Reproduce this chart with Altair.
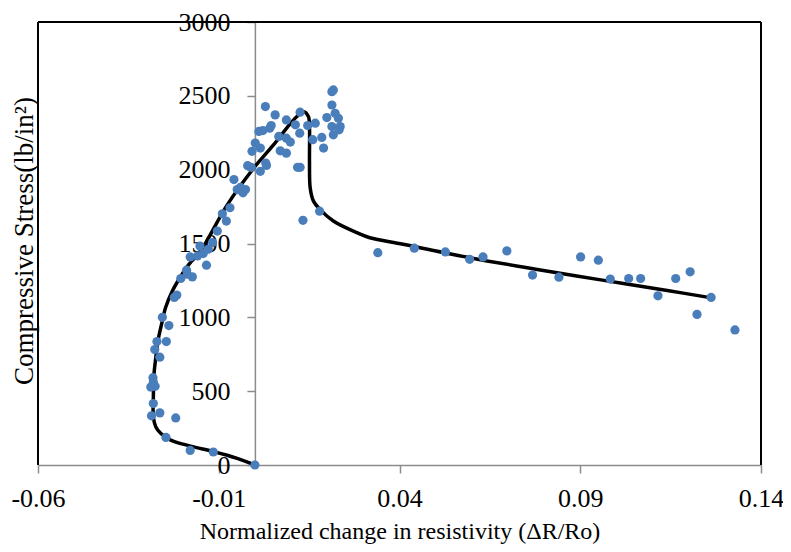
import altair as alt
import pandas as pd

# Scatter data (normalized change in resistivity, compressive stress)
pt_x = [0.0000, -0.0115, -0.0179, -0.0246, -0.0219, -0.0286, -0.0263, -0.0281, -0.0288, -0.0276,
        -0.0281, -0.0282, -0.0263, -0.0277, -0.0271, -0.0245, -0.0238, -0.0256, -0.0223, -0.0216,
        -0.0205, -0.0187, -0.0173, -0.0189, -0.0134, -0.0179, -0.0159, -0.0143, -0.0129, -0.0117,
        -0.0152, -0.0104, -0.0079, -0.0090, -0.0069, -0.0033, -0.0049, -0.0040, -0.0026, -0.0058,
        -0.0020, -0.0010, 0.0015, 0.0032, 0.0030, -0.0008, 0.0001, 0.0011, 0.0022, 0.0015,
        0.0029, 0.0045, 0.0056, 0.0041, 0.0066, 0.0087, 0.0087, 0.0098, 0.0070, 0.0087,
        0.0112, 0.0125, 0.0124, 0.0125, 0.0118, 0.0146, 0.0167, 0.0160, 0.0185, 0.0190,
        0.0199, 0.0217, 0.0213, 0.0213, 0.0222, 0.0231, 0.0213, 0.0236, 0.0217, 0.0233,
        0.0133, 0.0179,
        0.0340, 0.0441, 0.0527, 0.0594, 0.0631, 0.0697, 0.0768, 0.0841, 0.0901, 0.0950,
        0.0983, 0.1034, 0.1067, 0.1115, 0.1164, 0.1204, 0.1223, 0.1262, 0.1328]
pt_y = [0, 88, 99, 187, 319, 333, 353, 416, 528, 533,
        562, 591, 730, 782, 836, 836, 944, 1000, 1135, 1151,
        1263, 1292, 1274, 1319, 1353, 1409, 1416, 1432, 1461, 1506,
        1483, 1584, 1652, 1701, 1742, 1843, 1865, 1880, 1865, 1933,
        2027, 2016, 1989, 2029, 2045, 2124, 2180, 2259, 2265, 2146,
        2427, 2299, 2371, 2281, 2225, 2337, 2213, 2187, 2128, 2112,
        2304, 2389, 2247, 2016, 2016, 2299, 2315, 2203, 2218, 2146,
        2353, 2540, 2528, 2438, 2382, 2348, 2292, 2292, 2236, 2270,
        1657, 1719,
        1438, 1468, 1443, 1393, 1409, 1450, 1286, 1272, 1409, 1387,
        1259, 1263, 1263, 1146, 1263, 1308, 1020, 1135, 915]

# Fitted curve (in path order)
cv_x = [0.0000, -0.0049, -0.0113, -0.0178, -0.0233, -0.0260, -0.0274, -0.0281, -0.0281, -0.0279,
        -0.0274, -0.0268, -0.0258, -0.0247, -0.0228, -0.0207, -0.0182, -0.0150, -0.0077, -0.0003,
        0.0052, 0.0107, 0.0135, 0.0148, 0.0151, 0.0151, 0.0153, 0.0162, 0.0180, 0.0217,
        0.0282, 0.0318, 0.0410, 0.0594, 0.0777, 0.0961, 0.1145, 0.1255]
cv_y = [0, 45, 90, 128, 169, 213, 258, 326, 438, 618,
        730, 843, 955, 1067, 1180, 1270, 1360, 1450, 1760, 2011,
        2169, 2337, 2393, 2360, 2281, 2056, 1876, 1787, 1731, 1652,
        1573, 1539, 1495, 1404, 1326, 1252, 1180, 1135]

x_ticks = [-0.06, -0.01, 0.04, 0.09, 0.14]
y_ticks = [0, 500, 1000, 1500, 2000, 2500, 3000]

pts = pd.DataFrame({"x": pt_x, "y": pt_y})
curve = pd.DataFrame({"x": cv_x, "y": cv_y, "o": list(range(len(cv_x)))})

FONT = "Liberation Serif"
W, H = 723, 443
ZERO_OFFSET = W * 0.06 / 0.20  # pixel distance from left edge to x = 0

xs = alt.Scale(domain=[-0.06, 0.14], nice=False, zero=False)
ys = alt.Scale(domain=[0, 3000], nice=False, zero=False)

x_axis = alt.Axis(values=x_ticks,
                  labelExpr="datum.value < 0 ? '-' + format(-datum.value, '.2f') : format(datum.value, '.2f')",
                  title="Normalized change in resistivity (ΔR/Ro)",
                  grid=False, domainColor="#8c8c8c", tickColor="#8c8c8c", domainWidth=1.5,
                  tickWidth=1.5, tickSize=8, labelPadding=33, labelBaseline="alphabetic",
                  labelFontSize=26, labelFont=FONT, labelColor="black",
                  titleFont=FONT, titleFontSize=24, titleFontWeight="normal", titleColor="black",
                  titleBaseline="alphabetic", titleY=73,
                  labelFlush=False, labelOverlap=False)
y_axis = alt.Axis(values=y_ticks, format="d", title="Compressive Stress(lb/in²)",
                  grid=False, domainColor="#8c8c8c", tickColor="#8c8c8c", domainWidth=1.5,
                  tickWidth=1.5, tickSize=8, labelPadding=17, labelFontSize=26, labelFont=FONT,
                  labelColor="black", titleFont=FONT, titleFontSize=27, titleFontWeight="normal",
                  titleColor="black", offset=-ZERO_OFFSET, titleX=-(ZERO_OFFSET + 6),
                  titleY=218.5, titleBaseline="alphabetic", titleAngle=270,
                  labelFlush=False, labelOverlap=False)

frame_left = alt.Chart().mark_rule(color="black", strokeWidth=2).encode(
    x=alt.datum(-0.06, scale=xs), y=alt.datum(0, scale=ys), y2=alt.datum(3000))
frame_right = alt.Chart().mark_rule(color="black", strokeWidth=2).encode(
    x=alt.datum(0.14, scale=xs), y=alt.datum(0, scale=ys), y2=alt.datum(3000))
frame_top = alt.Chart().mark_rule(color="black", strokeWidth=2).encode(
    y=alt.datum(3000, scale=ys), x=alt.datum(-0.06, scale=xs), x2=alt.datum(0.14))

line = alt.Chart(curve).mark_line(color="black", strokeWidth=3.5, interpolate="catmull-rom").encode(
    x=alt.X("x:Q", scale=xs, axis=x_axis),
    y=alt.Y("y:Q", scale=ys, axis=y_axis),
    order="o:Q",
)
points = alt.Chart(pts).mark_circle(color="#4A7EBB", size=85, opacity=1).encode(
    x=alt.X("x:Q", scale=xs),
    y=alt.Y("y:Q", scale=ys),
)

chart = alt.layer(frame_left, frame_right, frame_top, line, points).properties(
    width=W, height=H,
    autosize=alt.AutoSizeParams(type="none"),
    padding={"left": 30, "top": 14, "right": 22, "bottom": 79},
).configure_view(stroke=None).configure(background="white")

chart.save("out.html", embed_options={"renderer": "svg", "actions": False})
